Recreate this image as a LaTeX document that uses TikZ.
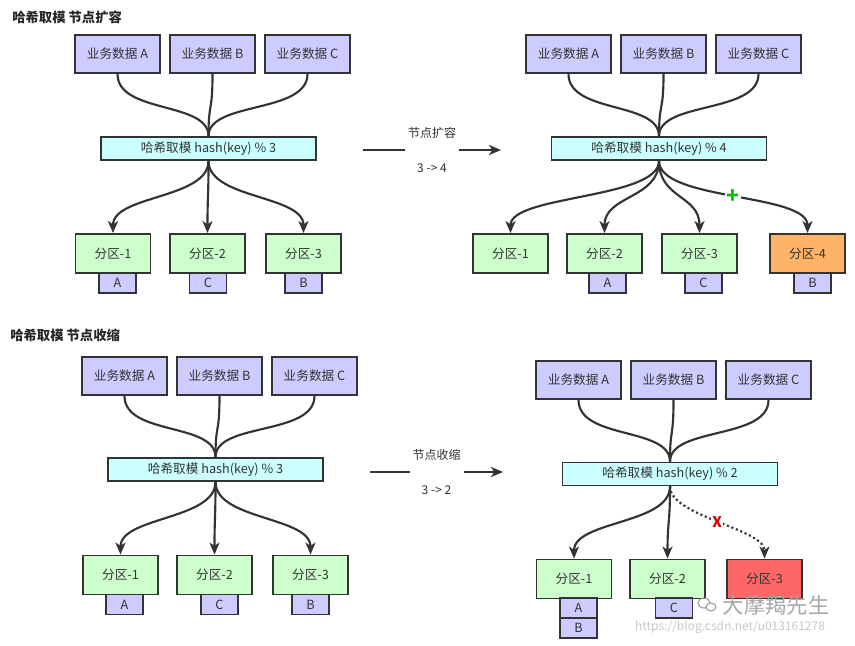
\documentclass[tikz,border=0pt]{standalone}
\usepackage{fontspec}
\setmainfont{Noto Sans CJK SC}
\usetikzlibrary{arrows.meta}
\definecolor{dataC}{HTML}{CCCCFF}
\definecolor{hashC}{HTML}{CCFFFF}
\definecolor{partC}{HTML}{CCFFCC}
\definecolor{newC}{HTML}{FFB366}
\definecolor{delC}{HTML}{FF6666}
\definecolor{lineC}{HTML}{333333}
\begin{document}
\begin{tikzpicture}[x=0.75pt,y=-0.75pt,
  box/.style={draw=lineC, line width=1.4pt, text=lineC, inner sep=0pt, font=\fontsize{9.5}{10}\selectfont},
  data/.style={box, fill=dataC, minimum width=63.75pt, minimum height=28.5pt},
  hash/.style={box, fill=hashC, minimum width=161.25pt, minimum height=17.25pt},
  part/.style={box, fill=partC, minimum width=56.25pt, minimum height=29.25pt},
  tag/.style={box, fill=dataC, minimum width=27.75pt, minimum height=15pt},
  flow/.style={draw=lineC, line width=1.6pt},
  arr/.style={flow, -{Stealth[length=9pt,width=7.5pt,inset=2.5pt]}},
  title/.style={anchor=west, text=black!85, inner sep=0pt, font=\fontsize{10}{12}\selectfont\bfseries},
  mid/.style={fill=white, text=lineC, align=center, inner sep=0pt, minimum width=40.5pt, font=\fontsize{9}{10}\selectfont},
  signmark/.style={fill=white, inner sep=1pt, font=\fontsize{12}{12}\selectfont\bfseries}
]
\useasboundingbox (0,0) rectangle (855,645);

% ---------- top-left: expansion before ----------
\node[title] (t1) at (12,17) {哈希取模 节点扩容};
\node[data] (dA1) at (117.5,54) {业务数据 A};
\node[data] (dB1) at (212.5,54) {业务数据 B};
\node[data] (dC1) at (307.5,54) {业务数据 C};
\node[hash] (h1) at (208.5,148.5) {哈希取模 hash(key) \% 3};
\node[part] (p11) at (113,253.5) {分区-1};
\node[part] (p12) at (207.5,253.5) {分区-2};
\node[part] (p13) at (303.5,253.5) {分区-3};
\node[tag] (s11) at (117.5,283) {A};
\node[tag] (s12) at (208,283) {C};
\node[tag] (s13) at (303.5,283) {B};
\foreach \d in {dA1,dB1,dC1}
  \draw[flow] (\d.south) .. controls +(0,40) and +(0,-35) .. (h1.north);
\foreach \p in {p11,p12,p13}
  \draw[arr] (h1.south) .. controls +(0,38) and +(0,-38) .. (\p.north);

% ---------- middle arrow top ----------
\coordinate (m1s) at (363,150);
\coordinate (m1e) at (501,150);
\draw[arr] (m1s) -- node[mid] (l1) {节点扩容\\[16pt]3 -> 4} (m1e);

% ---------- top-right: expansion after ----------
\node[data] (dA2) at (568.5,54) {业务数据 A};
\node[data] (dB2) at (663.5,54) {业务数据 B};
\node[data] (dC2) at (758.5,54) {业务数据 C};
\node[hash] (h2) at (659,148.5) {哈希取模 hash(key) \% 4};
\node[part] (p21) at (510.5,253.5) {分区-1};
\node[part] (p22) at (604.5,253.5) {分区-2};
\node[part] (p23) at (699.5,253.5) {分区-3};
\node[part, fill=newC] (p24) at (807.5,253.5) {分区-4};
\node[tag] (s22) at (607.5,283) {A};
\node[tag] (s23) at (703.5,283) {C};
\node[tag] (s24) at (812.5,283) {B};
\foreach \d in {dA2,dB2,dC2}
  \draw[flow] (\d.south) .. controls +(0,40) and +(0,-35) .. (h2.north);
\foreach \p in {p21,p22,p23}
  \draw[arr] (h2.south) .. controls +(0,38) and +(0,-38) .. (\p.north);
\draw[arr] (h2.south) .. controls +(0,40) and +(0,-40) .. node[signmark, text=green!75!black, pos=0.5, font=\fontsize{16}{16}\selectfont\bfseries] (plus) {+} (p24.north);

% ---------- bottom-left: shrink before ----------
\node[title] (t2) at (10,335) {哈希取模 节点收缩};
\node[data] (dA3) at (124.5,376) {业务数据 A};
\node[data] (dB3) at (219.5,376) {业务数据 B};
\node[data] (dC3) at (314.5,376) {业务数据 C};
\node[hash] (h3) at (215.5,469.5) {哈希取模 hash(key) \% 3};
\node[part] (p31) at (120.5,575) {分区-1};
\node[part] (p32) at (214.5,575) {分区-2};
\node[part] (p33) at (310.5,575) {分区-3};
\node[tag] (s31) at (124.5,604.5) {A};
\node[tag] (s32) at (219.5,604.5) {C};
\node[tag] (s33) at (310.5,604.5) {B};
\foreach \d in {dA3,dB3,dC3}
  \draw[flow] (\d.south) .. controls +(0,40) and +(0,-35) .. (h3.north);
\foreach \p in {p31,p32,p33}
  \draw[arr] (h3.south) .. controls +(0,38) and +(0,-38) .. (\p.north);

% ---------- middle arrow bottom ----------
\coordinate (m2s) at (370,472);
\coordinate (m2e) at (503,472);
\draw[arr] (m2s) -- node[mid] (l2) {节点收缩\\[16pt]3 -> 2} (m2e);

% ---------- bottom-right: shrink after ----------
\node[data] (dA4) at (578.5,380) {业务数据 A};
\node[data] (dB4) at (673.5,380) {业务数据 B};
\node[data] (dC4) at (768.5,380) {业务数据 C};
\node[hash] (h4) at (670,474) {哈希取模 hash(key) \% 2};
\node[part] (p41) at (574,579) {分区-1};
\node[part] (p42) at (667.5,579) {分区-2};
\node[part, fill=delC] (p43) at (764.5,579) {分区-3};
\node[tag] (s41) at (578.5,608) {A};
\node[tag] (s42) at (578.5,628) {B};
\node[tag] (s43) at (674,608) {C};
\foreach \d in {dA4,dB4,dC4}
  \draw[flow] (\d.south) .. controls +(0,40) and +(0,-35) .. (h4.north);
\foreach \p in {p41,p42}
  \draw[arr] (h4.south) .. controls +(0,38) and +(0,-38) .. (\p.north);
\draw[arr, dotted] (h4.south) .. controls +(0,30) and +(0,-30) .. node[signmark, text=red!85!black, pos=0.5, font=\fontsize{11}{11}\selectfont\bfseries] (xm) {X} (p43.north);

% ---------- watermark ----------
\node[text=black!35, font=\fontsize{16}{16}\selectfont] (wm) at (776,605) {大摩羯先生};
\draw[black!40, line width=0.8pt] (704,603) ellipse (6 and 5);
\draw[black!40, line width=0.8pt, fill=white] (711,607) ellipse (5 and 4);
\node[text=black!22, font=\fontsize{9}{10}\selectfont] (url) at (730,627) {https://blog.csdn.net/u013161278};
\end{tikzpicture}
\end{document}
